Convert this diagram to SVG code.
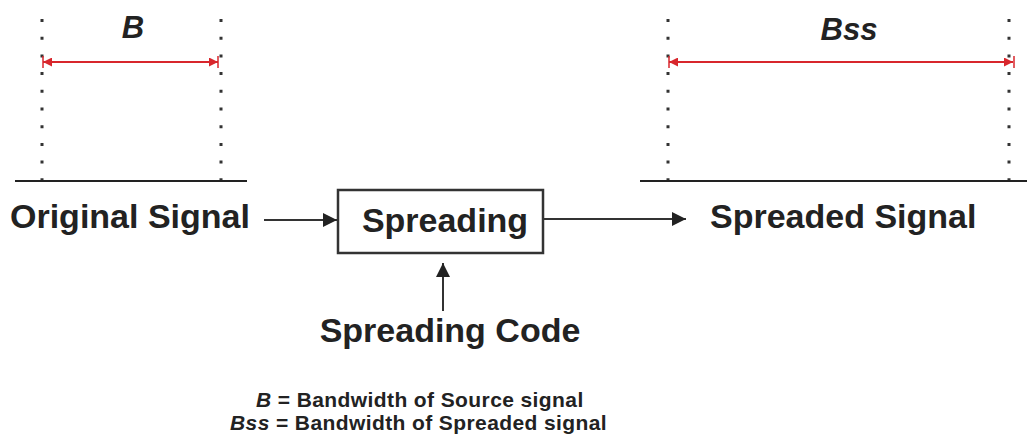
<svg xmlns="http://www.w3.org/2000/svg" width="1027" height="437" viewBox="0 0 1027 437">
  <style>
    .lbl { font-family: "Liberation Sans", Arial, sans-serif; font-weight: bold; fill: #222; }
    .big { font-size: 34px; }
    .dim { font-size: 31px; font-style: italic; text-anchor: middle; }
    .leg { font-size: 21px; letter-spacing: 0.4px; }
    .it { font-style: italic; }
    .dots { stroke: #333; stroke-width: 3; stroke-dasharray: 3 14.7; fill: none; }
    .axis { stroke: #222; stroke-width: 2.2; fill: none; }
    .span { stroke: #d8262c; stroke-width: 2; fill: none; }
    .tick { stroke: #d8262c; stroke-width: 1.5; }
    .flow { stroke: #333; stroke-width: 2; fill: none; }
  </style>
  <defs>
    <marker id="redHead" viewBox="0 0 10 10" refX="10" refY="5" markerWidth="10" markerHeight="9" markerUnits="userSpaceOnUse" orient="auto-start-reverse">
      <path d="M0,0 L10,5 L0,10 Z" fill="#d8262c"/>
    </marker>
    <marker id="flowHead" viewBox="0 0 10 10" refX="10" refY="5" markerWidth="16" markerHeight="14" markerUnits="userSpaceOnUse" orient="auto">
      <path d="M0,0 L10,5 L0,10 Z" fill="#222"/>
    </marker>
  </defs>
  <rect width="1027" height="437" fill="#ffffff"/>

  <!-- source spectrum with bandwidth B -->
  <g id="source-band">
    <line class="dots" x1="42" y1="19" x2="42" y2="181"/>
    <line class="dots" x1="221" y1="19" x2="221" y2="181"/>
    <line class="axis" x1="15" y1="181" x2="247" y2="181"/>
    <line class="span" x1="43" y1="62" x2="218" y2="62" marker-start="url(#redHead)" marker-end="url(#redHead)"/>
    <line class="tick" x1="43" y1="56" x2="43" y2="68"/>
    <line class="tick" x1="218" y1="56" x2="218" y2="68"/>
    <text class="lbl dim" x="133" y="38">B</text>
  </g>

  <!-- spread spectrum with bandwidth Bss -->
  <g id="spread-band">
    <line class="dots" x1="668" y1="19" x2="668" y2="181"/>
    <line class="dots" x1="1009" y1="19" x2="1009" y2="181"/>
    <line class="axis" x1="640" y1="181" x2="1027" y2="181"/>
    <line class="span" x1="669" y1="62" x2="1013" y2="62" marker-start="url(#redHead)" marker-end="url(#redHead)"/>
    <line class="tick" x1="669" y1="56" x2="669" y2="68"/>
    <line class="tick" x1="1014" y1="56" x2="1014" y2="68"/>
    <text class="lbl dim" x="849" y="40">Bss</text>
  </g>

  <g id="original-signal">
    <text class="lbl big" x="10" y="228">Original Signal</text>
  </g>

  <g id="spreading">
    <rect x="338" y="190" width="205" height="63" fill="#fff" stroke="#333" stroke-width="2.5"/>
    <text class="lbl big" x="445" y="232" text-anchor="middle">Spreading</text>
  </g>

  <g id="spreaded-signal">
    <text class="lbl big" x="710" y="228">Spreaded Signal</text>
  </g>

  <g id="spreading-code">
    <text class="lbl big" x="450" y="342" text-anchor="middle">Spreading Code</text>
  </g>

  <g id="connectors">
    <line class="flow" x1="264" y1="220" x2="337" y2="220" marker-end="url(#flowHead)"/>
    <line class="flow" x1="543" y1="219" x2="686" y2="219" marker-end="url(#flowHead)"/>
    <line class="flow" x1="443" y1="311" x2="443" y2="263" marker-end="url(#flowHead)"/>
  </g>

  <g id="legend">
    <text class="lbl leg" x="256" y="407"><tspan class="it">B</tspan> = Bandwidth of Source signal</text>
    <text class="lbl leg" x="230" y="430"><tspan class="it">Bss</tspan> = Bandwidth of Spreaded signal</text>
  </g>
</svg>
